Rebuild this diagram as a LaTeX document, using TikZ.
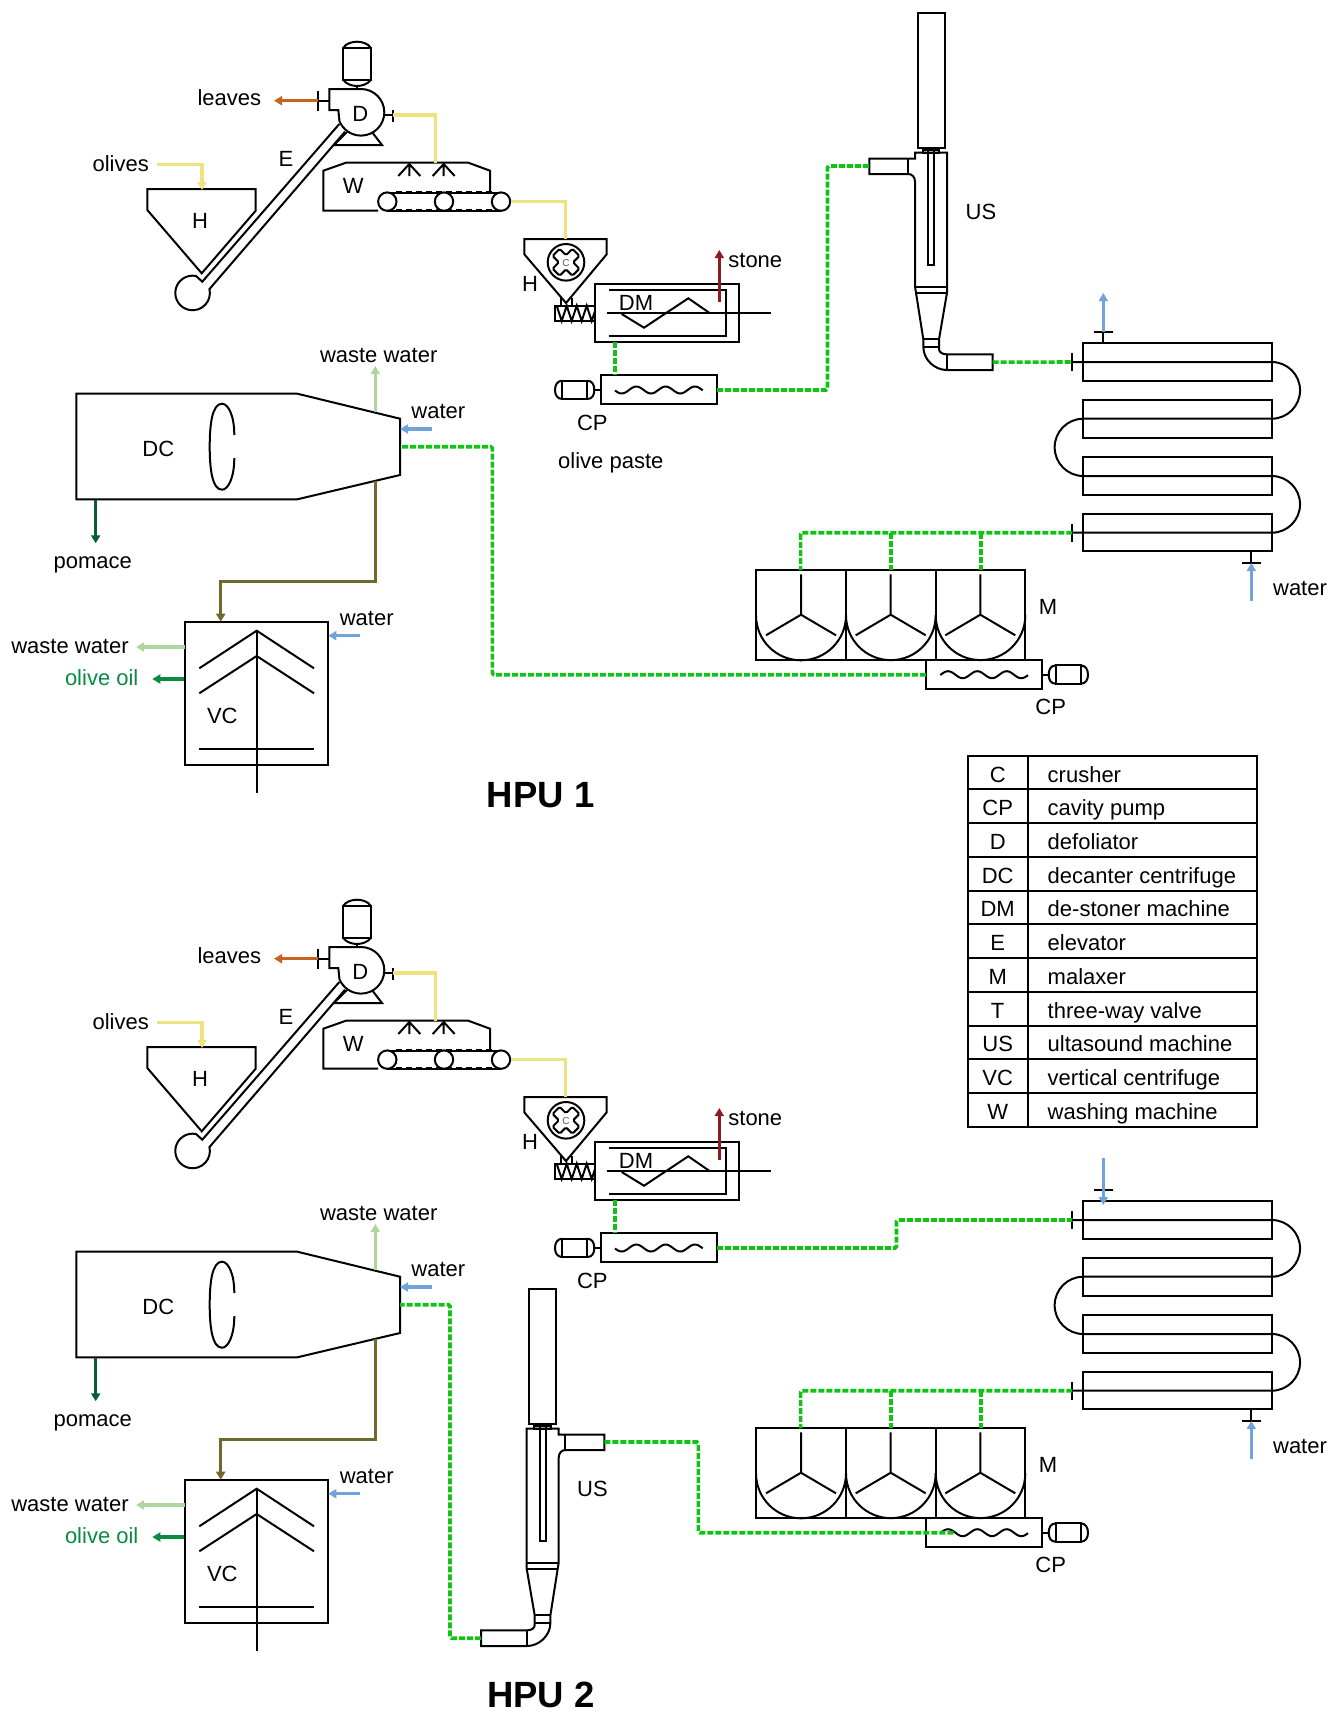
\documentclass[tikz,border=0pt]{standalone}
\usepackage{fontspec}
\setmainfont{Liberation Sans}
\usetikzlibrary{arrows.meta}
\definecolor{feedyellow}{HTML}{F0E27E}
\definecolor{leaforange}{HTML}{C8621F}
\definecolor{stonered}{HTML}{8E1B1F}
\definecolor{pastegreen}{HTML}{10C414}
\definecolor{wastegreen}{HTML}{AED6A0}
\definecolor{pomacegreen}{HTML}{0A5C33}
\definecolor{mustbrown}{HTML}{6F6A2C}
\definecolor{waterblue}{HTML}{6FA3DC}
\definecolor{oilgreen}{HTML}{0B8A43}
\tikzset{
  tagtext/.style={font=\fontsize{22}{26}\selectfont, inner sep=0pt},
  titletext/.style={font=\fontsize{36.5}{40}\selectfont\bfseries, inner sep=0pt},
  flowtip/.style={-{Triangle[length=8pt,width=9pt]}},
  feedflow/.style={draw=feedyellow, line width=3.4pt},
  pasteflow/.style={draw=pastegreen, line width=3.6pt, dash pattern=on 6pt off 2pt, rounded corners=1.5pt},
  waterflow/.style={flowtip, draw=waterblue, line width=3.2pt},
  wasteflow/.style={flowtip, draw=wastegreen, line width=3.2pt},
  pics/cavitypump/.style={code={
    \draw (0,-14.7) rectangle (115.7,14.4);
    \draw[domain=0:87.7,samples=60] plot ({13.7+\x},{3.5*cos((\x-6.7)/29.3*360)});
    \draw (0,0) -- (-7,0);
    \draw (-39,-9.3) rectangle (-14,9);
    \draw (-39,-9.3) .. controls (-44,-9.3) and (-46.3,-5) .. (-46.3,0) .. controls (-46.3,5) and (-44,9) .. (-39,9);
    \draw (-14,-9.3) .. controls (-9,-9.3) and (-7,-5) .. (-7,0) .. controls (-7,5) and (-9,9) .. (-14,9);
    \coordinate (-port) at (115.7,0);
    \coordinate (-top) at (13.7,-14.7);
  }},
  pics/usmachine/.style={code={
    \draw (917.7,13.3) rectangle (944.7,147.7);
    \draw (922.7,150) rectangle (939.3,152.7);
    \draw (927.7,148.3) rectangle (934,265);
    \draw (869.3,158.7) -- (915,158.7) -- (915,152.7) -- (947,152.7) -- (947,292.7)
      -- (939,339.3) -- (939,349) .. controls (939,352) and (942,354.3) .. (946.7,354.3)
      -- (992.7,354.3) -- (992.7,370) -- (946.7,370)
      .. controls (935,370) and (923.3,360) .. (923.3,346.7) -- (923.3,339.3) -- (916,292.7)
      -- (915,286.7) -- (915,181.7) .. controls (915,177) and (912,174) .. (908.3,174)
      -- (869.3,174) -- cycle;
    \draw (908.3,158.7) -- (908.3,174);
    \draw (946.7,354.3) -- (946.7,370);
    \draw (915,286.7) -- (947,286.7);
    \draw (916,292.7) -- (947,292.7);
    \draw (923.3,339.3) -- (939,339.3);
    \draw (923.3,346.7) -- (939,346.7);
    \coordinate (-inlet) at (869.3,166);
    \coordinate (-outlet) at (992.7,362.2);
  }}
}

% shared units of one plant, prefix #1
\newcommand{\plantunits}[1]{%
  % ── Defoliator and elevator ──────────────────────────────
  \draw (343.3,47.7) rectangle (370.7,80);
  \draw (343.3,47.7) .. controls (346,43.5) and (352,41.7) .. (357,41.7) .. controls (362,41.7) and (368,43.5) .. (370.7,47.7);
  \draw (343.3,80) .. controls (346,84) and (352,86) .. (357,86) .. controls (362,86) and (368,84) .. (370.7,80);
  \draw (357,86) -- (357,89);
  \draw (329.3,110) -- (329.3,89) -- (361,89) arc[start angle=-90,end angle=157.5,radius=23.3]
    -- (338.3,110) -- cycle;
  \draw (317.7,90.7) -- (317.7,110.7);
  \draw (317.7,100.7) -- (329.3,100.7);
  \draw (392.7,110) -- (392.7,121.7);
  \draw (384.3,115) -- (392.7,115);
  \draw (372.7,133) -- (382,145) -- (334,145) -- (347,132);
  \draw (339.3,124) -- (202.3,281.7) -- (196,276) arc[start angle=-78.6,end angle=-373,radius=17.3]
    -- (345,131.7);
  \node[tagtext] (#1dlabel) at (360.3,114) {D};
  \node[tagtext] (#1elabel) at (286,159) {E};
  \node[tagtext] (#1leaves) at (229.3,98) {leaves};
  \coordinate (#1dleft) at (317.7,100.7);
  \coordinate (#1leafend) at (274,100.7);
  \draw[flowtip, draw=leaforange, line width=3.2pt] (#1dleft) -- (#1leafend);

  % ── Feed hopper ──────────────────────────────
  \draw (147.3,189) -- (255.7,189) -- (255.7,210.7) -- (201.7,273.3) -- (147.3,210) -- cycle;
  \node[tagtext] (#1hlabel) at (200,221) {H};
  \node[tagtext] (#1olives) at (120.7,164) {olives};
  \coordinate (#1feedstart) at (157.3,164.7);
  \coordinate (#1hopin) at (202,190);
  \draw[feedflow, flowtip] (#1feedstart) -| (#1hopin);

  % ── Washing machine ──────────────────────────────
  \draw (378,210.7) -- (323.3,210.7) -- (323.3,170.7) -- (346,162.7) -- (468.3,162.7) -- (490,170.7) -- (490,193);
  \draw (387.3,192.5) -- (501,192.5);
  \draw (387.3,210.7) -- (501,210.7);
  \draw[line width=3pt, dash pattern=on 6pt off 4pt] (396,192.5) -- (492,192.5);
  \draw[line width=3pt, dash pattern=on 6pt off 4pt] (396,210.7) -- (492,210.7);
  \foreach \rollx in {387.3,444,501}
    \draw[fill=white] (\rollx,201.6) circle[radius=9.2];
  \foreach \sprayx in {409.3,443.7}
    \draw (\sprayx-11,176) -- (\sprayx,164) -- (\sprayx+11,176) (\sprayx,164) -- (\sprayx,176);
  \node[tagtext] (#1wlabel) at (353.3,186) {W};
  \coordinate (#1dright) at (392.7,115);
  \coordinate (#1wtop) at (435.7,162.7);
  \draw[feedflow] (#1dright) -| (#1wtop);

  % ── Crusher and de-stoner ──────────────────────────────
  \draw (524.3,239) -- (606.7,239) -- (606.7,254.3) -- (566,303) -- (524.3,254.3) -- cycle;
  \draw (560.7,298) -- (560.7,305.7);
  \draw (571.7,298) -- (571.7,305.7);
  \draw (566,262.3) circle[radius=18.3];
  \begin{scope}[shift={(566,262.3)},rotate=45]
    \draw[rounded corners=1.5pt] (-5,-5) -- (-5,-14) -- (5,-14) -- (5,-5) -- (14,-5) -- (14,5) -- (5,5)
      -- (5,14) -- (-5,14) -- (-5,5) -- (-14,5) -- (-14,-5) -- cycle;
  \end{scope}
  \node[font=\fontsize{10}{12}\selectfont, inner sep=0pt, text=black!65] (#1clabel) at (566,263) {C};
  \node[tagtext] (#1hclabel) at (530,284.3) {H};
  \draw (555,305.7) rectangle (595,321);
  \draw (556.7,305.7) -- (561.7,321) -- (566.7,305.7) -- (571.7,321) -- (576.7,305.7) -- (581.7,321)
    -- (586.7,305.7) -- (591.7,321) -- (595,311);
  \draw (595.3,284.3) rectangle (739.3,342.3);
  \draw (609,290.3) -- (726,290.3) -- (726,336) -- (609,336);
  \draw (606.7,313.3) -- (770.7,313.3);
  \draw (621.7,314) -- (644,327.7) -- (688.3,298.3) -- (710,313.3);
  \node[tagtext] (#1dmlabel) at (636,302.7) {DM};
  \node[tagtext] (#1stone) at (755.3,260) {stone};
  \coordinate (#1wout) at (510.7,201.7);
  \coordinate (#1crushin) at (565.5,239);
  \draw[feedflow] (#1wout) -| (#1crushin);
  \coordinate (#1stonestart) at (719.3,301.7);
  \coordinate (#1stoneend) at (719.3,250);
  \draw[flowtip, draw=stonered, line width=3.2pt] (#1stonestart) -- (#1stoneend);
  \coordinate (#1dmout) at (615,342.3);

  % ── Cavity pumps ──────────────────────────────
  \pic (#1cpupper) at (601.3,390) {cavitypump};
  \pic[xscale=-1] (#1cplower) at (1041.7,674.7) {cavitypump};
  \node[tagtext] (#1cplabel) at (592.3,422.7) {CP};
  \node[tagtext] (#1cplabelb) at (1050.7,707) {CP};
  \draw[pasteflow] (#1dmout) -- (#1cpupper-top);

  % ── Heat exchanger ──────────────────────────────
  \foreach \ytop/\ybot in {343/381,400.3/437.7,457/494.7,513.7/551.3}
    \draw (1083.3,\ytop) rectangle (1271.7,\ybot);
  \draw (1072.3,362) -- (1271.7,362) arc[start angle=-90,end angle=90,radius=28.35]
    -- (1083.3,418.7) arc[start angle=-90,end angle=-270,radius=28.65]
    -- (1271.7,476) arc[start angle=-90,end angle=90,radius=28.35] -- (1072.3,532.7);
  \draw (1072.3,353) -- (1072.3,371);
  \draw (1072.3,523.7) -- (1072.3,541.7);
  \draw (1103.3,343) -- (1103.3,332);
  \draw (1094.3,332) -- (1112.7,332);
  \draw (1251.3,551.3) -- (1251.3,563);
  \draw (1242.3,563) -- (1260.7,563);
  \node[tagtext] (#1waterc) at (1300,588) {water};
  \coordinate (#1coilin) at (1072.3,362);
  \coordinate (#1coilout) at (1072.3,532.7);
  \coordinate (#1coilwstart) at (1251.3,601.3);
  \coordinate (#1coilwend) at (1251.3,563);
  \draw[waterflow] (#1coilwstart) -- (#1coilwend);

  % ── Malaxer ──────────────────────────────
  \draw (756,570.3) rectangle (1025.3,660);
  \draw (846,570.3) -- (846,660);
  \draw (935.7,570.3) -- (935.7,660);
  \draw (756,615.3) arc[start angle=180,end angle=0,radius=45];
  \draw (846,615.3) arc[start angle=180,end angle=0,radius=44.85];
  \draw (935.7,615.3) arc[start angle=180,end angle=0,radius=44.8];
  \foreach \bladex in {801,890.7,980.3}
    \draw (\bladex,574.3) -- (\bladex,614.7) -- (\bladex-35,635.3) (\bladex,614.7) -- (\bladex+35,635.3);
  \node[tagtext] (#1mlabel) at (1048,607) {M};
  \coordinate (#1malaxa) at (800.6,570.3);
  \coordinate (#1malaxb) at (890.7,570.3);
  \coordinate (#1malaxc) at (980.7,570.3);
  \draw[pasteflow] (#1coilout) -| (#1malaxa);
  \draw[pasteflow] (#1malaxb |- #1coilout) -- (#1malaxb);
  \draw[pasteflow] (#1malaxc |- #1coilout) -- (#1malaxc);

  % ── Decanter centrifuge ──────────────────────────────
  \draw (76.3,393.7) -- (297.3,393.7) -- (400,418.7) -- (400,475) -- (297.3,499.3) -- (76.3,499.3) -- cycle;
  \draw (234.3,435) .. controls (234.3,415) and (228,403.7) .. (222,403.7)
    .. controls (212,403.7) and (209.7,425) .. (209.7,446.7)
    .. controls (209.7,468) and (212,489.7) .. (222,489.7)
    .. controls (228,489.7) and (234.3,478) .. (234.3,458);
  \node[tagtext] (#1dclabel) at (158.3,449) {DC};
  \node[tagtext] (#1wastea) at (378.7,355.5) {waste water};
  \node[tagtext] (#1watera) at (438.3,411.7) {water};
  \node[tagtext] (#1pomace) at (92.7,564.5) {pomace};
  \coordinate (#1dcout) at (400,446.7);
  \coordinate (#1dcwaste) at (375.3,412.3);
  \coordinate (#1dcwasteend) at (375.3,366);
  \draw[wasteflow] (#1dcwaste) -- (#1dcwasteend);
  \coordinate (#1dcwater) at (431.7,429);
  \coordinate (#1dcwaterend) at (400,429);
  \draw[waterflow] (#1dcwater) -- (#1dcwaterend);
  \coordinate (#1dcpomace) at (95.7,500);
  \coordinate (#1pomaceend) at (95.7,543.3);
  \draw[flowtip, draw=pomacegreen, line width=3pt] (#1dcpomace) -- (#1pomaceend);

  % ── Vertical centrifuge ──────────────────────────────
  \draw (185,621.7) rectangle (328.3,765);
  \draw (256.7,630.7) -- (256.7,793.3);
  \draw (199.3,668.3) -- (256.7,630.7) -- (314,668.3);
  \draw (199.3,693.3) -- (256.7,656) -- (314,693.3);
  \draw (199,749) -- (314.3,749);
  \node[tagtext] (#1vclabel) at (222.3,715.5) {VC};
  \node[tagtext] (#1waterb) at (366.7,618.3) {water};
  \node[tagtext] (#1wasteb) at (70,646) {waste water};
  \node[tagtext, text=oilgreen] (#1oil) at (101.7,677.3) {olive oil};
  \coordinate (#1dcmust) at (375.3,480.7);
  \coordinate (#1vcin) at (220.7,621.7);
  \coordinate (#1mustbend) at (375.3,581.7);
  \draw[flowtip, draw=mustbrown, line width=3.2pt] (#1dcmust) -- (#1mustbend) -| (#1vcin);
  \coordinate (#1vcwater) at (360,635.7);
  \coordinate (#1vcwaterend) at (328.3,635.7);
  \draw[waterflow] (#1vcwater) -- (#1vcwaterend);
  \coordinate (#1vcwaste) at (185,647);
  \coordinate (#1vcwasteend) at (136,647);
  \draw[wasteflow] (#1vcwaste) -- (#1vcwasteend);
  \coordinate (#1vcoil) at (184.3,679);
  \coordinate (#1vcoilend) at (152.3,679);
  \draw[flowtip, draw=oilgreen, line width=3.2pt] (#1vcoil) -- (#1vcoilend);
}

\begin{document}
\begin{tikzpicture}[x=1pt, y=-1pt, line width=2pt]
  \useasboundingbox (0,0) rectangle (1331,1716);

  % ── HPU 1 ──────────────────────────────
  \plantunits{a}
  \pic (ausmach) at (0,0) {usmachine};
  \node[tagtext] (auslabel) at (981,212.3) {US};
  \node[tagtext] (apaste) at (610.8,463) {olive paste};
  \node[titletext] (atitle) at (540.7,794.7) {HPU 1};
  \coordinate (ariser) at (827.5,166);
  \draw[pasteflow] (acpupper-port) -| (ariser) -- (ausmach-inlet);
  \draw[pasteflow] (ausmach-outlet) -- (acoilin);
  \coordinate (abend) at (492.3,446.7);
  \draw[pasteflow] (acplower-port) -| (abend) -- (adcout);
  \coordinate (acoolstart) at (1103.3,332);
  \coordinate (acoolend) at (1103.3,293);
  \draw[waterflow] (acoolstart) -- (acoolend);

  % ── HPU 2 ──────────────────────────────
  \begin{scope}[shift={(0,858)}]
    \plantunits{b}
  \end{scope}
  \pic[xscale=-1] (busmach) at (1473.7,1276) {usmachine};
  \node[tagtext] (buslabel) at (592.5,1488.5) {US};
  \node[titletext] (btitle) at (541,1695) {HPU 2};
  \coordinate (briser) at (896.5,1220);
  \draw[pasteflow] (bcpupper-port) -| (briser) -- (bcoilin);
  \coordinate (bbenda) at (450,1304.7);
  \draw[pasteflow] (busmach-outlet) -| (bbenda) -- (bdcout);
  \coordinate (bbendb) at (698.3,1532.7);
  \coordinate (bcpend) at (955,1532.7);
  \draw[pasteflow] (busmach-inlet) -| (bbendb) -- (bcpend);
  \coordinate (bcoolstart) at (1103.3,1158.3);
  \coordinate (bcoolend) at (1103.3,1205);
  \draw[waterflow] (bcoolstart) -- (bcoolend);

  % ── Legend ──────────────────────────────
  \draw (968,755.7) rectangle (1257.3,1126.7);
  \draw (1027.7,755.7) -- (1027.7,1126.7);
  \foreach \row in {1,...,10}
    \draw (968,{755.7+33.73*\row}) -- (1257.3,{755.7+33.73*\row});
  \foreach \abbr/\entry [count=\row] in {C/crusher, CP/cavity pump, D/defoliator, DC/decanter centrifuge,
      DM/de-stoner machine, E/elevator, M/malaxer, T/three-way valve, US/ultasound machine,
      VC/vertical centrifuge, W/washing machine} {
    \node[tagtext, anchor=base] (abbr\row) at (997.7,{755.7+33.73*(\row-0.5)+9.5}) {\abbr};
    \node[tagtext, anchor=base west] (entry\row) at (1046.7,{755.7+33.73*(\row-0.5)+9.5}) {\entry};
  }
\end{tikzpicture}
\end{document}
